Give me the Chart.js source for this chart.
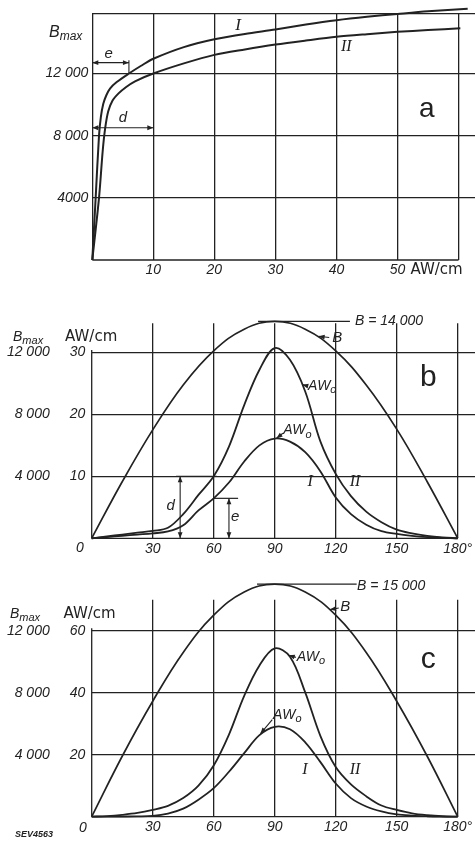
<!DOCTYPE html>
<html>
<head>
<meta charset="utf-8">
<script src="https://cdn.jsdelivr.net/npm/chart.js@4.4.0/dist/chart.umd.min.js"></script>
<style>
    body { margin: 0; background: #fff; }
    #wrap { position: relative; width: 475px; height: 841px; overflow: hidden; background: #fff; }
    canvas { position: absolute; left: 0; }
</style>
</head>
<body>
<div id="wrap">
    <canvas id="chart-a" width="475" height="290" style="top:0px"></canvas>
    <canvas id="chart-b" width="475" height="280" style="top:290px"></canvas>
    <canvas id="chart-c" width="475" height="271" style="top:570px"></canvas>
</div>
<script>
// panel a: B_max against AW/cm for the two sheet grades
const awCurveI  = [0, 0.55, 1.1, 1.4, 1.8, 2.3, 2.9, 4, 6, 8, 10, 15, 20, 25, 30, 35, 40, 45, 50, 55, 61.5];
const bCurveI   = [0, 4000, 8000, 9200, 10050, 10600, 11030, 11450, 12000, 12500, 12950, 13700, 14200, 14550, 14830, 15150, 15430, 15650, 15830, 16000, 16170];
const awCurveII = [0, 1.1, 1.7, 2.1, 2.6, 3.3, 4.3, 5.5, 7, 10, 15, 20, 25, 30, 35, 40, 45, 50, 55, 60.3];
const bCurveII  = [0, 4000, 7000, 8450, 9550, 10250, 10720, 11120, 11500, 12000, 12650, 13200, 13550, 13860, 14120, 14360, 14530, 14680, 14800, 14910];
const awTicksA  = [0, 10, 20, 30, 40, 50, 60];
const bTicksA   = [0, 4000, 8000, 12000, 15830];
const bLabelsA  = ["", "4000", "8 000", "12 000", ""];

// panels b and c: over electrical angle
const bAngles = [0, 15, 30, 45, 60, 75, 90, 105, 120, 135, 150, 165, 180];
const angles  = [0, 7.5, 15, 22.5, 30, 37.5, 45, 52.5, 60, 67.5, 75, 82.5, 90,
                 97.5, 105, 112.5, 120, 127.5, 135, 142.5, 150, 157.5, 165, 172.5, 180];
const angleTicks = [0, 30, 60, 90, 120, 150, 180];

// b: B = 14 000
const fluxB  = [0, 3650, 7000, 9900, 12100, 13500, 14000, 13500, 12100, 9900, 7050, 3650, 0];
const awIIb  = [0, 0.3, 0.6, 0.9, 1.2, 1.7, 3.9, 7.0, 10.0, 14.8, 21.5, 27.2, 30.7,
                28.8, 23.7, 15.6, 10.4, 6.8, 4.3, 2.6, 1.4, 0.8, 0.4, 0.15, 0];
const awIb   = [0, 0.2, 0.4, 0.6, 0.8, 1.1, 2.1, 4.5, 6.45, 9.0, 12.4, 15.0, 16.1,
                15.6, 13.9, 10.8, 6.6, 3.9, 2.2, 1.15, 0.7, 0.4, 0.2, 0.08, 0];
const awTicksB = [0, 10, 20, 30];
const bTicksB  = [4000, 8000, 12000];

// c: B = 15 000
const fluxC  = [0, 3900, 7450, 10600, 13000, 14500, 15000, 14500, 13000, 10600, 7450, 3900, 0];
const awIIc  = [0, 0.2, 0.6, 1.2, 2.2, 3.5, 6.0, 10.0, 16.5, 26.5, 39.0, 48.8, 54.3,
                51.6, 40.1, 26.0, 16.0, 10.4, 6.6, 3.6, 2.2, 1.1, 0.5, 0.15, 0];
const awIc   = [0, 0.02, 0.05, 0.1, 0.25, 1.0, 2.6, 5.5, 9.2, 14.5, 20.5, 26.3, 29.0,
                28.2, 24.0, 17.6, 10.7, 6.0, 3.3, 1.7, 0.75, 0.35, 0.15, 0.05, 0];
const awTicksC = [0, 20, 40, 60];
const bTicksC  = [4000, 8000, 12000];

const bLabels = ["4 000", "8 000", "12 000"];

const ink = "#222";
const sans = '"Liberation Sans", Arial, sans-serif';
const serif = '"Liberation Serif", "Times New Roman", serif';
const tickFont = { family: sans, size: 14, style: "italic" };

function pt(chart, x, y) {
    return [chart.scales.x.getPixelForValue(x), chart.scales.y.getPixelForValue(y)];
}

function drawText(chart, str, x, y, font, align) {
    const ctx = chart.ctx;
    const p = pt(chart, x, y);
    ctx.font = font;
    ctx.fillStyle = ink;
    ctx.textAlign = align || "center";
    ctx.textBaseline = "middle";
    ctx.fillText(str, p[0], p[1]);
}

function drawRoman(chart, str, x, y, size, knockout) {
    const ctx = chart.ctx;
    const p = pt(chart, x, y);
    ctx.font = `italic ${size}px ${serif}`;
    if (knockout) {
        const w = ctx.measureText(str).width;
        ctx.fillStyle = "#fff";
        ctx.fillRect(p[0] - w / 2 - 4, p[1] - 3, w + 8, 6);
    }
    drawText(chart, str, x, y, ctx.font);
}

function drawSub(chart, main, sub, x, y, size) {
    const ctx = chart.ctx;
    const p = pt(chart, x, y);
    ctx.fillStyle = ink;
    ctx.textAlign = "left";
    ctx.textBaseline = "middle";
    ctx.font = `italic ${size}px ${sans}`;
    ctx.fillText(main, p[0], p[1]);
    const w = ctx.measureText(main).width;
    ctx.font = `italic ${Math.round(size * 0.75)}px ${sans}`;
    ctx.fillText(sub, p[0] + w, p[1] + size * 0.3);
}

function drawLine(chart, x1, y1, x2, y2, width) {
    const ctx = chart.ctx;
    const a = pt(chart, x1, y1);
    const b = pt(chart, x2, y2);
    ctx.strokeStyle = ink;
    ctx.lineWidth = width || 1.3;
    ctx.beginPath();
    ctx.moveTo(a[0], a[1]);
    ctx.lineTo(b[0], b[1]);
    ctx.stroke();
}

function head(ctx, from, to) {
    const ang = Math.atan2(to[1] - from[1], to[0] - from[0]);
    const len = 6, half = 2.4;
    const bx = to[0] - len * Math.cos(ang);
    const by = to[1] - len * Math.sin(ang);
    ctx.beginPath();
    ctx.moveTo(to[0], to[1]);
    ctx.lineTo(bx + half * Math.sin(ang), by - half * Math.cos(ang));
    ctx.lineTo(bx - half * Math.sin(ang), by + half * Math.cos(ang));
    ctx.closePath();
    ctx.fill();
}

function drawArrow(chart, x1, y1, x2, y2, both) {
    drawLine(chart, x1, y1, x2, y2, 1.1);
    const a = pt(chart, x1, y1);
    const b = pt(chart, x2, y2);
    chart.ctx.fillStyle = ink;
    head(chart.ctx, a, b);
    if (both) head(chart.ctx, b, a);
}

function notes(id, draw) {
    return {
        id: id,
        afterDatasetsDraw(chart) {
            chart.ctx.save();
            draw(chart);
            chart.ctx.restore();
        },
    };
}

function curve(xs, ys, width, tension, axis) {
    return {
        data: xs.map((x, i) => ({ x: x, y: ys[i] })),
        yAxisID: axis || "y",
        borderColor: ink,
        borderWidth: width,
        pointRadius: 0,
        fill: false,
        tension: tension,
        capBezierPoints: false,
        clip: false,
    };
}

function hideZero(ctx) {
    return ctx.tick && ctx.tick.value === 0 ? "rgba(0,0,0,0)" : ink;
}

// ---------- panel a ----------
new Chart(document.getElementById("chart-a"), {
    type: "line",
    data: {
        datasets: [curve(awCurveI, bCurveI, 2, 0.3), curve(awCurveII, bCurveII, 2, 0.3)],
    },
    options: {
        responsive: false,
        animation: false,
        layout: { padding: { top: 14, left: 0, right: 0, bottom: 0 }, autoPadding: false },
        plugins: { legend: { display: false }, tooltip: { enabled: false } },
        scales: {
            x: {
                type: "linear",
                min: 0,
                max: 62.7,
                afterBuildTicks: (s) => { s.ticks = awTicksA.map((v) => ({ value: v })); },
                afterFit: (s) => { s.height = 30; },
                grid: { color: ink, lineWidth: 1.3, drawTicks: false },
                border: { display: false },
                ticks: {
                    padding: 2,
                    color: ink,
                    font: tickFont,
                    callback: (v) => (v === 0 || v === 60 ? "" : v),
                },
            },
            y: {
                type: "linear",
                min: 0,
                max: 15830,
                afterBuildTicks: (s) => { s.ticks = bTicksA.map((v) => ({ value: v })); },
                afterFit: (s) => { s.width = 92.3; },
                grid: { color: hideZero, lineWidth: 1.3, drawTicks: false },
                border: { display: false },
                ticks: {
                    padding: 4,
                    color: ink,
                    font: tickFont,
                    callback: (v, i) => bLabelsA[i],
                },
            },
        },
    },
    plugins: [
        notes("notes-a", function (chart) {
            drawLine(chart, 0, 0, 60, 0);
            drawRoman(chart, "I", 23.9, 15060, 17);
            drawRoman(chart, "II", 41.6, 13700, 16);
            drawText(chart, "a", 54.8, 9720, `28px ${sans}`);
            drawText(chart, "e", 2.7, 13260, `italic 15px ${sans}`);
            drawText(chart, "d", 5.0, 9140, `italic 15px ${sans}`);
            drawArrow(chart, 0, 12700, 6, 12700, true);
            drawLine(chart, 6, 12000, 6, 12850, 1.1);
            drawArrow(chart, 0, 8510, 10, 8510, true);
            drawSub(chart, "B", "max", -7.1, 14650, 16);
            drawText(chart, "AW/cm", 56.4, -640, `15px "DejaVu Sans", sans-serif`);
        }),
    ],
});

// ---------- panels b and c ----------
function angleChart(id, awMax, bPerAw, awTicks, flux, awI, awII, xHeight, top, draw) {
    return new Chart(document.getElementById(id), {
        type: "line",
        data: {
            datasets: [
                curve(bAngles, flux, 1.7, 0.4, "yB"),
                curve(angles, awII, 1.8, 0.35),
                curve(angles, awI, 1.8, 0.35),
            ],
        },
        options: {
            responsive: false,
            animation: false,
            layout: { padding: { top: top, left: 0, right: 0, bottom: 0 }, autoPadding: false },
            plugins: { legend: { display: false }, tooltip: { enabled: false } },
            scales: {
                x: {
                    type: "linear",
                    min: 0,
                    max: 188.5,
                    afterBuildTicks: (s) => { s.ticks = angleTicks.map((v) => ({ value: v })); },
                    afterFit: (s) => { s.height = xHeight; },
                    grid: { color: hideZero, lineWidth: 1.3, drawTicks: false },
                    border: { display: false },
                    ticks: {
                        padding: 2,
                        color: ink,
                        font: tickFont,
                        callback: (v) => (v === 0 ? "" : v === 180 ? "180°" : v),
                    },
                },
                y: {
                    type: "linear",
                    position: "left",
                    weight: 0,
                    min: 0,
                    max: awMax,
                    afterBuildTicks: (s) => { s.ticks = awTicks.map((v) => ({ value: v })); },
                    afterFit: (s) => { s.width = 40; },
                    grid: { color: hideZero, lineWidth: 1.3, drawTicks: false },
                    border: { display: false },
                    ticks: {
                        padding: 6.5,
                        color: ink,
                        font: tickFont,
                        callback: (v) => (v === 0 ? "" : v),
                    },
                },
                yB: {
                    type: "linear",
                    position: "left",
                    weight: 1,
                    min: 0,
                    max: awMax * bPerAw,
                    afterBuildTicks: (s) => { s.ticks = bTicksB.map((v) => ({ value: v })); },
                    afterFit: (s) => { s.width = 51.7; },
                    grid: { display: false, drawTicks: false },
                    border: { display: false },
                    ticks: {
                        padding: 2,
                        color: ink,
                        font: tickFont,
                        callback: (v, i) => bLabels[i],
                    },
                },
            },
        },
        plugins: [notes(id + "-notes", draw)],
    });
}

angleChart("chart-b", 34.7, 400, awTicksB, fluxB, awIb, awIIb, 31.7, 33.3, function (chart) {
    drawLine(chart, 0, 0, 0, 30.4);
    drawLine(chart, 0, 0, 180, 0);
    drawSub(chart, "B", "max", -38.7, 32.5, 14);
    drawText(chart, "AW/cm", -13.1, 32.5, `15px "DejaVu Sans", sans-serif`, "left");
    drawText(chart, "0", -5.75, -1.6, `italic 14px ${sans}`);
    drawLine(chart, 81.8, 35, 127, 35, 1.2);
    drawText(chart, "B = 14 000", 129.5, 35, `italic 14px ${sans}`, "left");
    drawArrow(chart, 116.8, 32.4, 111.6, 32.6);
    drawText(chart, "B", 118.3, 32.4, `italic 15px ${sans}`, "left");
    drawArrow(chart, 106.0, 24.6, 103.6, 24.8);
    drawSub(chart, "AW", "o", 106.4, 24.6, 14);
    drawArrow(chart, 94.0, 16.95, 90.9, 16.15);
    drawSub(chart, "AW", "o", 94.2, 17.4, 14);
    drawText(chart, "b", 165.5, 25.9, `30px ${sans}`);
    drawRoman(chart, "I", 107.4, 9.2, 16, true);
    drawRoman(chart, "II", 129.5, 9.2, 16, true);
    drawArrow(chart, 43.5, 0, 43.5, 10, true);
    drawLine(chart, 41.5, 10, 61.5, 10, 1.2);
    drawText(chart, "d", 38.8, 5.2, `italic 15px ${sans}`);
    drawArrow(chart, 67.5, 0, 67.5, 6.45, true);
    drawLine(chart, 60, 6.45, 72, 6.45, 1.2);
    drawText(chart, "e", 70.5, 3.4, `italic 15px ${sans}`);
});

angleChart("chart-c", 70, 200, awTicksC, fluxC, awIc, awIIc, 24.3, 29.7, function (chart) {
    drawLine(chart, 0, 0, 0, 60.8);
    drawLine(chart, 0, 0, 180, 0);
    drawSub(chart, "B", "max", -40.2, 65.5, 14);
    drawText(chart, "AW/cm", -13.9, 65.5, `15px "DejaVu Sans", sans-serif`, "left");
    drawText(chart, "0", -4.3, -3.6, `italic 14px ${sans}`);
    drawLine(chart, 81.3, 75, 130.3, 75, 1.2);
    drawText(chart, "B = 15 000", 130.5, 74.4, `italic 14px ${sans}`, "left");
    drawArrow(chart, 121.5, 67.3, 117.2, 66.8);
    drawText(chart, "B", 122.2, 67.6, `italic 15px ${sans}`, "left");
    drawArrow(chart, 100.4, 51.4, 96.9, 52.1);
    drawSub(chart, "AW", "o", 100.8, 51.6, 14);
    drawArrow(chart, 88.8, 31.3, 83.0, 26.8);
    drawSub(chart, "AW", "o", 89.2, 32.8, 14);
    drawText(chart, "c", 165.5, 50.5, `30px ${sans}`);
    drawRoman(chart, "I", 104.9, 15.1, 16);
    drawRoman(chart, "II", 129.5, 15.1, 16);
    drawText(chart, "SEV4563", -37.7, -5.8, `italic bold 9px ${sans}`, "left");
});
</script>
</body>
</html>
